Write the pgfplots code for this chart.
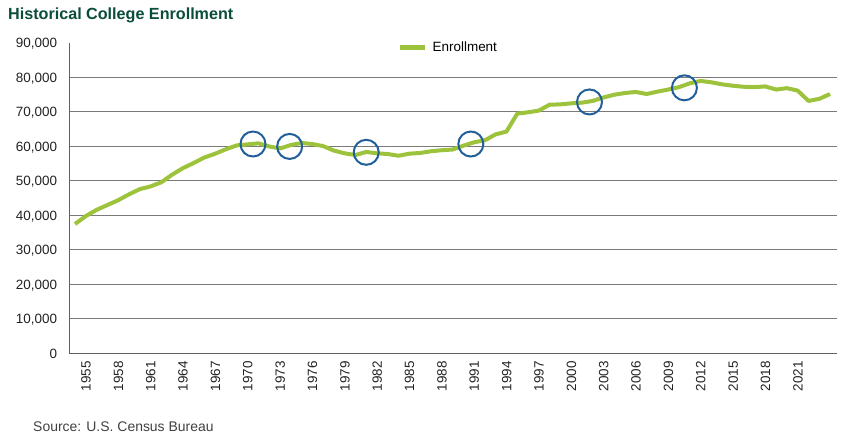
\documentclass[border=0pt]{standalone}
\usepackage{pgfplots}
\pgfplotsset{compat=1.18}
\usepackage{fontspec}
\setmainfont{Liberation Sans}
\definecolor{linegreen}{HTML}{9DC23B}
\definecolor{titlegreen}{HTML}{0B4D3B}
\definecolor{circblue}{HTML}{215F9A}
\definecolor{gridgray}{HTML}{7A7A7A}
\definecolor{axgray}{HTML}{5F5F5F}
\definecolor{txt}{HTML}{222222}
\begin{document}
\begin{tikzpicture}
\useasboundingbox (0,0) rectangle (845bp,443bp);
\node[anchor=base west, inner sep=0pt, text=titlegreen, font=\bfseries\fontsize{16.2}{19}\selectfont] at (8bp,423.5bp) {Historical College Enrollment};
\node[anchor=base west, inner sep=0pt, text=black!75, font=\fontsize{14}{16}\selectfont] at (33bp,12bp) {Source: U.S. Census Bureau};
\begin{axis}[
  at={(69.3bp,89.7bp)}, anchor=south west,
  scale only axis, width=767.4bp, height=310.3bp,
  xmin=1953.47, xmax=2024.62, ymin=0, ymax=90000,
  axis lines=left, axis line style={-, draw=axgray, line width=1bp},
  major tick length=0pt,
  xtick={1955,1958,...,2021},
  ytick={0,10000,...,80000},
  extra y ticks={90000}, extra y tick style={grid=none},
  ymajorgrids, grid style={draw=gridgray, line width=1bp},
  scaled y ticks=false,
  /pgf/number format/assume math mode=true,
  /pgf/number format/1000 sep={,},
  tick label style={font=\fontsize{13.5}{16}\selectfont, text=txt},
  yticklabel style={anchor=east, inner sep=0pt, xshift=-12bp, text height=9.7bp, text depth=0pt},
  xticklabel style={yshift=-8bp, rotate=90, anchor=east, inner sep=0pt, /pgf/number format/1000 sep={}, text height=9.7bp, text depth=0pt},
  legend style={draw=none, fill=none, at={(0.4283,0.986)}, anchor=west, inner sep=0pt, font=\fontsize{13.5}{16}\selectfont, nodes={inner sep=0pt}, column sep=5bp},
  legend image code/.code={\draw[linegreen, line width=4.5bp] (0bp,0bp) -- (25bp,0bp);},
]
\addplot[linegreen, line width=4bp, line join=round, no marks] coordinates {
(1954,37500) (1955,39800) (1956,41600) (1957,43000) (1958,44400) (1959,46100)
(1960,47600) (1961,48400) (1962,49600) (1963,51800) (1964,53700) (1965,55200)
(1966,56800) (1967,57900) (1968,59200) (1969,60300) (1970,60600) (1971,60900)
(1972,60000) (1973,59400) (1974,60400) (1975,61000) (1976,60700) (1977,60100)
(1978,58800) (1979,58000) (1980,57500) (1981,58400) (1982,58000) (1983,57800)
(1984,57300) (1985,57900) (1986,58100) (1987,58600) (1988,58900) (1989,59100)
(1990,60200) (1991,61200) (1992,61800) (1993,63500) (1994,64300) (1995,69500)
(1996,69900) (1997,70400) (1998,72100) (1999,72200) (2000,72500) (2001,72700)
(2002,73200) (2003,74200) (2004,75000) (2005,75500) (2006,75800) (2007,75200)
(2008,75900) (2009,76500) (2010,77200) (2011,78300) (2012,79000) (2013,78600)
(2014,78000) (2015,77600) (2016,77300) (2017,77200) (2018,77400) (2019,76500)
(2020,76900) (2021,76200) (2022,73200) (2023,73800) (2024,75200)
};
\addlegendentry{Enrollment}
\addplot[only marks, mark=o, mark size=12.5bp, circblue, mark options={line width=2bp}, forget plot] coordinates {
(1970.5,60700) (1973.9,60000) (1981.0,58300) (1990.7,60700) (2001.7,72900) (2010.5,77000)
};
\end{axis}
\end{tikzpicture}
\end{document}
